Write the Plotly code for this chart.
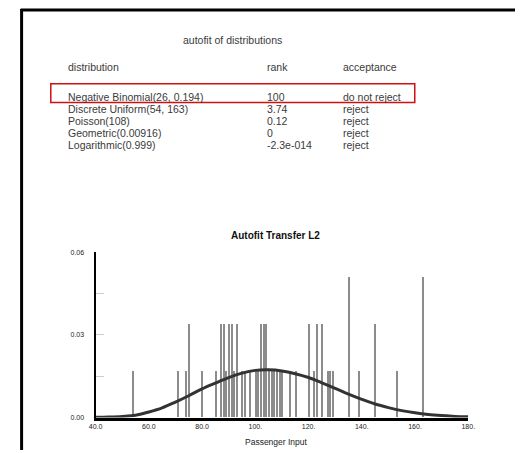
import plotly.graph_objects as go

# ---------------- data ----------------
table_title = "autofit of distributions"
col_headers = ["distribution", "rank", "acceptance"]
distributions = ["Negative Binomial(26, 0.194)", "Discrete Uniform(54, 163)", "Poisson(108)",
                 "Geometric(0.00916)", "Logarithmic(0.999)"]
ranks = ["100", "3.74", "0.12", "0", "-2.3e-014"]
acceptance = ["do not reject", "reject", "reject", "reject", "reject"]

chart_title = "Autofit Transfer L2"
x_title = "Passenger Input"

# observed values (Passenger Input) and their relative frequency
obs_x = [54, 71, 74, 75, 80, 85, 87, 88, 89, 90, 91, 92, 93, 95, 96, 98, 100, 101, 102, 103,
         104, 105, 106, 107, 108, 109, 110, 113, 115, 120, 122, 123, 125, 127, 128, 129,
         135, 139, 145, 153, 163]
obs_freq = [0.017, 0.017, 0.017, 0.034, 0.017, 0.017, 0.034, 0.034, 0.017, 0.034, 0.034, 0.017,
            0.034, 0.017, 0.017, 0.017, 0.017, 0.017, 0.034, 0.034, 0.034, 0.017, 0.017, 0.017,
            0.017, 0.017, 0.017, 0.017, 0.017, 0.034, 0.017, 0.034, 0.034, 0.017, 0.017, 0.017,
            0.051, 0.017, 0.034, 0.017, 0.051]

# fitted curve
fit_x = [40, 45, 50, 55, 60, 65, 70, 75, 80, 85, 90, 95, 100, 105, 110, 115, 120, 125, 130,
         135, 140, 145, 150, 155, 160, 165, 170, 175, 180]
fit_y = [0.0001, 0.0002, 0.0004, 0.0008, 0.0020, 0.0035, 0.0056, 0.0079, 0.0104, 0.0125,
         0.0145, 0.0161, 0.0171, 0.0173, 0.0169, 0.0159, 0.0145, 0.0126, 0.0106, 0.0085,
         0.0066, 0.0049, 0.0036, 0.0025, 0.0017, 0.0011, 0.0007, 0.0004, 0.0003]

x_tickvals = [40, 60, 80, 100, 120, 140, 160, 180]
x_ticktext = ["40.0", "60.0", "80.0", "100.", "120.", "140.", "160.", "180."]
y_tickvals = [0, 0.015, 0.03, 0.045, 0.06]
y_ticktext = ["0.00", "", "0.03", "", "0.06"]

# ---------------- layout helpers ----------------
W, H = 522, 453
def px(x):
    return x / W
def py(y):
    return 1 - y / H

FONT = "Liberation Sans, Arial, sans-serif"
TXT = "#3a3a3a"

fig = go.Figure()
fig.add_trace(go.Bar(x=obs_x, y=obs_freq, width=0.45,
                     marker=dict(color="#8c8c8c", line=dict(width=0)),
                     showlegend=False, hoverinfo="x+y"))
fig.add_trace(go.Scatter(x=fit_x, y=fit_y, mode="lines",
                         line=dict(color="#333333", width=3, shape="spline"),
                         showlegend=False))

ann = []
ann.append(dict(x=px(232), y=py(37), text=table_title, xanchor="center", yanchor="middle"))
col_x = [61, 265, 343]
for cx, h in zip(col_x, col_headers):
    ann.append(dict(x=px(cx), y=py(64), text=h, xanchor="left", yanchor="middle"))
row_y0, row_dy = 94, 12.3
for i, (d, r, a) in enumerate(zip(distributions, ranks, acceptance)):
    yy = row_y0 + i * row_dy
    for cx, t in zip(col_x, (d, r, a)):
        ann.append(dict(x=px(cx), y=py(yy), text=t, xanchor="left", yanchor="middle"))
for a in ann:
    a.update(xref="paper", yref="paper", showarrow=False,
             font=dict(family=FONT, size=10.5, color=TXT))

ann.append(dict(x=px(276), y=py(235), xref="paper", yref="paper", showarrow=False,
                text="<b>" + chart_title + "</b>", xanchor="center", yanchor="middle",
                font=dict(family=FONT, size=10, color="#111111")))
ann.append(dict(x=px(277), y=py(445), xref="paper", yref="paper", showarrow=False,
                text=x_title, xanchor="center", yanchor="middle",
                font=dict(family=FONT, size=8.5, color="#222222")))

shapes = [
    dict(type="rect", xref="paper", yref="paper", x0=px(45), x1=px(419), y0=py(81), y1=py(100),
         line=dict(color="#d01010", width=1.5)),
    dict(type="line", xref="paper", yref="paper", x0=px(15), x1=px(15), y0=py(5), y1=py(453),
         line=dict(color="black", width=3)),
    dict(type="line", xref="paper", yref="paper", x0=px(14), x1=px(522), y0=py(6), y1=py(6),
         line=dict(color="black", width=3)),
]

fig.update_layout(
    width=W, height=H, margin=dict(l=0, r=0, t=0, b=0),
    paper_bgcolor="white", plot_bgcolor="white",
    annotations=ann, shapes=shapes, bargap=0,
    xaxis=dict(domain=[px(91), px(474)], range=[40, 180], showgrid=False, zeroline=False,
               showline=True, linecolor="black", linewidth=3,
               tickvals=x_tickvals, ticktext=x_ticktext, ticks="",
               tickfont=dict(family=FONT, size=7, color="#222222")),
    yaxis=dict(domain=[py(420), py(252)], range=[0, 0.06], showgrid=False, zeroline=False,
               showline=True, linecolor="black", linewidth=2,
               tickvals=y_tickvals, ticktext=y_ticktext, ticks="inside", ticklen=8,
               tickcolor="#cccccc", tickwidth=1, ticklabelstandoff=8,
               tickfont=dict(family=FONT, size=7, color="#222222")),
)

fig.write_html("out.html")
